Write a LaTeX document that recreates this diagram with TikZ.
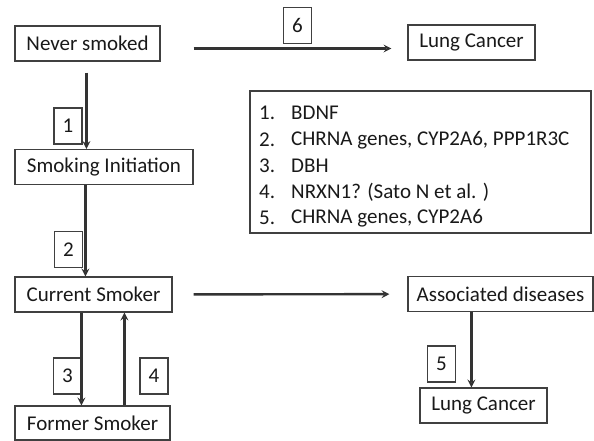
\documentclass[tikz,border=0pt]{standalone}
\usepackage{fontspec}
\setmainfont{Carlito}
\usepackage{tikz}

\begin{document}
\begin{tikzpicture}[x=1pt,y=-1pt,
  font=\fontsize{21}{25}\selectfont,
  every node/.style={text=black!90},
  box/.style={draw=black!75,line width=1.1pt,inner sep=0pt,minimum height=35},
  lab/.style={draw=black!75,line width=1.1pt,inner sep=0pt,minimum width=28,minimum height=36},
  arr/.style={->,>=stealth,draw=black!80,line width=2.4pt}]
\useasboundingbox (0,0) rectangle (594,440);
% states
\node[box,minimum width=145] (never)   at (87.5,43.5)  {Never smoked};
\node[box,minimum width=127] (lungA)   at (471.5,42.5) {Lung Cancer};
\node[box,minimum width=178] (init)    at (104,167)    {Smoking Initiation};
\node[box,minimum width=157] (current) at (93.5,294.5) {Current Smoker};
\node[box,minimum width=185] (assoc)   at (500.5,294)  {Associated diseases};
\node[box,minimum width=127] (lungB)   at (483.5,405.5){Lung Cancer};
\node[box,minimum width=155,minimum height=34] (former) at (92.5,423) {Former Smoker};
% gene list
\node[box,minimum width=341,minimum height=142] (genes) at (420.5,162) {};
\foreach \n/\g/\y in {1/BDNF/113, 2/{CHRNA genes, CYP2A6, PPP1R3C}/140, 3/DBH/166,
                      4/{NRXN1? (Sato N et al. )}/192, 5/{CHRNA genes, CYP2A6}/218}
{
\node[anchor=west,inner sep=0pt] (num\n) at (259,\y) {\n.};
\node[anchor=west,inner sep=0pt] (gene\n) at (291,\y) {\g};
}
% step labels
\node[lab] (l6) at (297.5,25.5) {6};
\node[lab] (l1) at (68,126)     {1};
\node[lab] (l2) at (68.5,249.5) {2};
\node[lab] (l3) at (67.5,376)   {3};
\node[lab] (l4) at (154,376)    {4};
\node[lab] (l5) at (441.5,364)  {5};
% arrows
\draw[arr,shorten <=33pt,shorten >=16pt] ([yshift=-5pt]never.east) -- ([yshift=-5pt]never.east -| lungA.west);
\draw[arr,shorten <=21pt,shorten >=18pt] (current) -- (assoc);
\draw[arr,shorten <=11pt] ([xshift=72]never.south west) -- ([xshift=72]init.north west);
\draw[arr] ([xshift=71]init.south west) -- ([xshift=71]current.north west);
\draw[arr] ([xshift=67]current.south west) -- ([xshift=67]former.north west);
\draw[arr] ([xshift=110]former.north west) -- ([xshift=110]current.south west);
\draw[arr] ([xshift=64]assoc.south west) -- ([xshift=64]assoc.south west |- lungB.north);
\end{tikzpicture}
\end{document}
